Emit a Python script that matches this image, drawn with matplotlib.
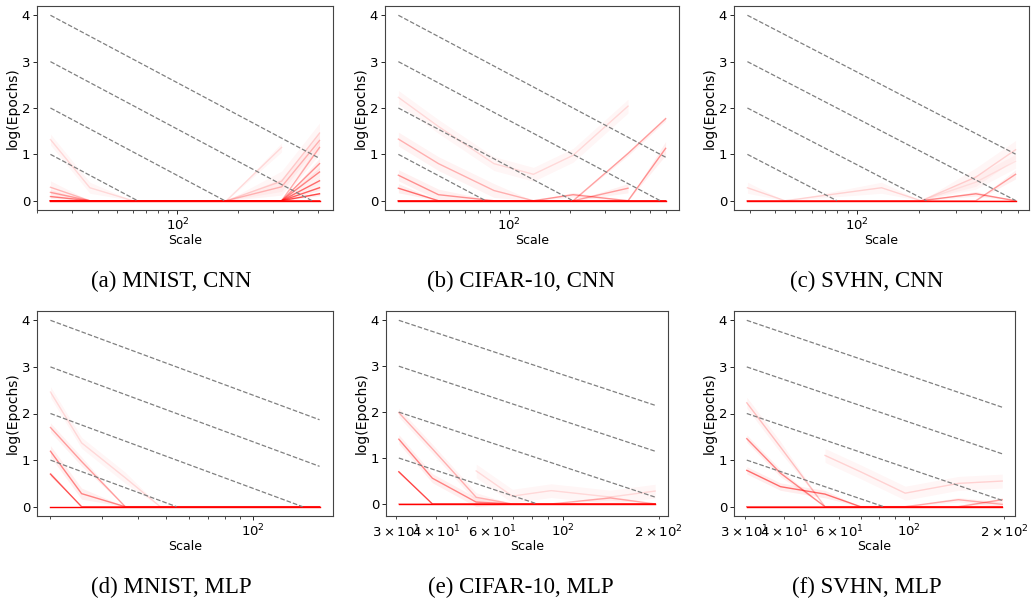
import numpy as np
import matplotlib
matplotlib.use("Agg")
import matplotlib.pyplot as plt

nan = np.nan

# scale grid, runs (log epochs per scale), line alpha and band half-width per panel
MNIST_CNN_SCALE = [23.3, 36.6, 60, 175, 330, 510]
MNIST_CNN_RUNS = [
    [0, 0, 0, 0, 0, 0],
    [1.32, 0.28, 0, 0, 0, 0],
    [0.29, 0, 0, 0, 0, 0],
    [0.18, 0, 0, 0, 0, 0],
    [0.09, 0, 0, 0, 0, 0],
    [0, 0, 0, 0, 1.15, nan],
    [0, 0, 0, 0, 0.42, 1.46],
    [0, 0, 0, 0, 0.30, 1.30],
    [0, 0, 0, 0, 0, 1.15],
    [0, 0, 0, 0, 0, 0.80],
    [0, 0, 0, 0, 0, 0.62],
    [0, 0, 0, 0, 0, 0.43],
    [0, 0, 0, 0, 0, 0.28],
    [0, 0, 0, 0, 0, 0.15],
]
MNIST_CNN_ALPHA = [1.0, 0.12, 0.25, 0.35, 0.5, 0.12, 0.15, 0.25, 0.3, 0.4, 0.45, 0.55, 0.6, 0.7]
MNIST_CNN_SPREAD = [0, 0.12, 0.14, 0.06, 0.04, 0.1, 0.22, 0.18, 0.14, 0.12, 0.1, 0.08, 0.06, 0.04]

CIFAR_CNN_SCALE = [28.1, 44.5, 84, 132, 208, 390, 600]
CIFAR_CNN_RUNS = [
    [0, 0, 0, 0, 0, 0, 0],
    [2.23, 1.60, 0.80, 0.57, 0.98, 2.04, nan],
    [1.33, 0.80, 0.22, 0, 0, 0, 0],
    [0.55, 0.13, 0, 0, 0, 0, 0],
    [0.27, 0, 0, 0, 0, 0, 0],
    [0, 0, 0, 0, 0.13, 0, 0],
    [0, 0, 0, 0, 0, 0.27, nan],
    [0, 0, 0, 0, 0, 1.02, 1.77],
    [0, 0, 0, 0, 0, 0, 1.13],
]
CIFAR_CNN_ALPHA = [1.0, 0.12, 0.28, 0.4, 0.55, 0.4, 0.35, 0.35, 0.4]
CIFAR_CNN_SPREAD = [0, 0.15, 0.15, 0.12, 0.1, 0.05, 0.1, 0.05, 0.15]

SVHN_CNN_SCALE = [29.3, 44.6, 131, 204, 376, 586]
SVHN_CNN_RUNS = [
    [0, 0, 0, 0, 0, 0],
    [0.28, 0, 0.28, 0, 0, 0],
    [0, 0, 0, 0, 0.51, 1.10],
    [0, 0, 0, 0, 0.40, 0.85],
    [0, 0, 0, 0, 0.15, 0],
    [0, 0, 0, 0, 0, 0.57],
]
SVHN_CNN_ALPHA = [1.0, 0.15, 0.15, 0.08, 0.45, 0.35]
SVHN_CNN_SPREAD = [0, 0.12, 0.2, 0.15, 0.05, 0.1]

MNIST_MLP_SCALE = [20, 25.6, 36.2, 47.8, 169]
MNIST_MLP_RUNS = [
    [0, 0, 0, 0, 0],
    [2.46, 1.37, 0.62, 0, 0],
    [1.70, 0.97, 0, 0, 0],
    [1.19, 0.28, 0, 0, 0],
    [0.70, 0, 0, 0, 0],
]
MNIST_MLP_ALPHA = [1.0, 0.12, 0.35, 0.45, 0.65]
MNIST_MLP_SPREAD = [0, 0.12, 0.1, 0.12, 0.05]

CIFAR_MLP_SCALE = [30.6, 39, 53.5, 69.5, 92, 141, 195]
CIFAR_MLP_RUNS = [
    [0, 0, 0, 0, 0, 0, 0],
    [1.99, 1.20, 0.145, 0, 0, 0, 0],
    [1.41, 0.56, 0.04, 0, 0, 0, 0],
    [0.70, 0, 0, 0, 0, 0, 0],
    [nan, nan, 0.72, 0.17, 0.29, 0.15, 0.28],
    [0, 0, 0, 0, 0, 0.13, 0],
]
CIFAR_MLP_ALPHA = [1.0, 0.28, 0.45, 0.7, 0.12, 0.3]
CIFAR_MLP_SPREAD = [0, 0.1, 0.1, 0.03, 0.15, 0.05]

SVHN_MLP_SCALE = [30.5, 39, 54, 70, 97, 143, 197]
SVHN_MLP_RUNS = [
    [0, 0, 0, 0, 0, 0, 0],
    [2.23, 1.28, 0, 0, 0, 0, 0],
    [1.46, 0.72, 0, 0, 0, 0, 0],
    [0.78, 0.43, 0.27, 0, 0, 0, 0],
    [nan, nan, 1.10, 0.75, 0.29, 0.50, 0.55],
    [0, 0, 0, 0, 0, 0.15, 0.05],
    [0, 0, 0, 0, 0, 0, 0.15],
]
SVHN_MLP_ALPHA = [1.0, 0.22, 0.45, 0.55, 0.15, 0.3, 0.35]
SVHN_MLP_SPREAD = [0, 0.12, 0.08, 0.08, 0.15, 0.05, 0.05]

GUIDE_LEVELS = [1, 2, 3, 4]

CAPTIONS = [
    "(a) MNIST, CNN", "(b) CIFAR-10, CNN", "(c) SVHN, CNN",
    "(d) MNIST, MLP", "(e) CIFAR-10, MLP", "(f) SVHN, MLP",
]

W, H = 1031, 603


def draw_panel(ax, scale, runs, alphas, spreads):
    x = np.array(scale, dtype=float)
    for ys, a, s in zip(runs, alphas, spreads):
        y = np.array(ys, dtype=float)
        if s > 0:
            band = np.where(y > 0, s, 0)
            ax.fill_between(x, y - band, y + band, color="red", alpha=0.025 + 0.08 * a, lw=0)
        ax.plot(x, y, color="red", alpha=a, lw=1.0)

    # slope -1 guides in log-log space, cut off at zero
    x0, x1 = x[0], x[-1]
    for k in GUIDE_LEVELS:
        xe = min(x1, x0 * np.exp(k))
        ax.plot([x0, xe], [k, k - np.log(xe / x0)], ls="--", color="gray", lw=0.9, zorder=3)

    ax.set_xscale("log")
    ax.set_yticks([0, 1, 2, 3, 4])
    ax.set_xlabel("Scale", fontsize=9, labelpad=0)
    ax.set_ylabel("log(Epochs)", fontsize=10, labelpad=1)
    ax.tick_params(which="major", labelsize=9.5, length=3, width=0.6, pad=2)
    ax.tick_params(which="minor", length=1.8, width=0.5, labelsize=9.5)
    for sp in ax.spines.values():
        sp.set_color("#444444")
        sp.set_linewidth(0.8)


def main():
    fig = plt.figure(figsize=(W / 100, H / 100), dpi=100)
    fig.patch.set_facecolor("white")

    boxes = [
        (37, 333, 6, 210), (385, 679, 6, 210), (734, 1029, 6, 210),
        (37, 333, 311, 516), (386, 668, 311, 516), (734, 1015, 311, 516),
    ]
    panels = [
        (MNIST_CNN_SCALE, MNIST_CNN_RUNS, MNIST_CNN_ALPHA, MNIST_CNN_SPREAD),
        (CIFAR_CNN_SCALE, CIFAR_CNN_RUNS, CIFAR_CNN_ALPHA, CIFAR_CNN_SPREAD),
        (SVHN_CNN_SCALE, SVHN_CNN_RUNS, SVHN_CNN_ALPHA, SVHN_CNN_SPREAD),
        (MNIST_MLP_SCALE, MNIST_MLP_RUNS, MNIST_MLP_ALPHA, MNIST_MLP_SPREAD),
        (CIFAR_MLP_SCALE, CIFAR_MLP_RUNS, CIFAR_MLP_ALPHA, CIFAR_MLP_SPREAD),
        (SVHN_MLP_SCALE, SVHN_MLP_RUNS, SVHN_MLP_ALPHA, SVHN_MLP_SPREAD),
    ]
    caption_pos = [(171, 281), (521, 281), (867, 281), (171, 587), (521, 587), (867, 587)]

    for (l, r, t, b), data, cap, (cx, cy) in zip(boxes, panels, CAPTIONS, caption_pos):
        ax = fig.add_axes([l / W, 1 - b / H, (r - l) / W, (b - t) / H])
        draw_panel(ax, *data)
        fig.text(cx / W, 1 - cy / H, cap, ha="center", va="center",
                 family="Liberation Serif", fontsize=16.5)

    fig.savefig("out.png", dpi=100, facecolor="white")
    plt.close(fig)


if __name__ == "__main__":
    main()
